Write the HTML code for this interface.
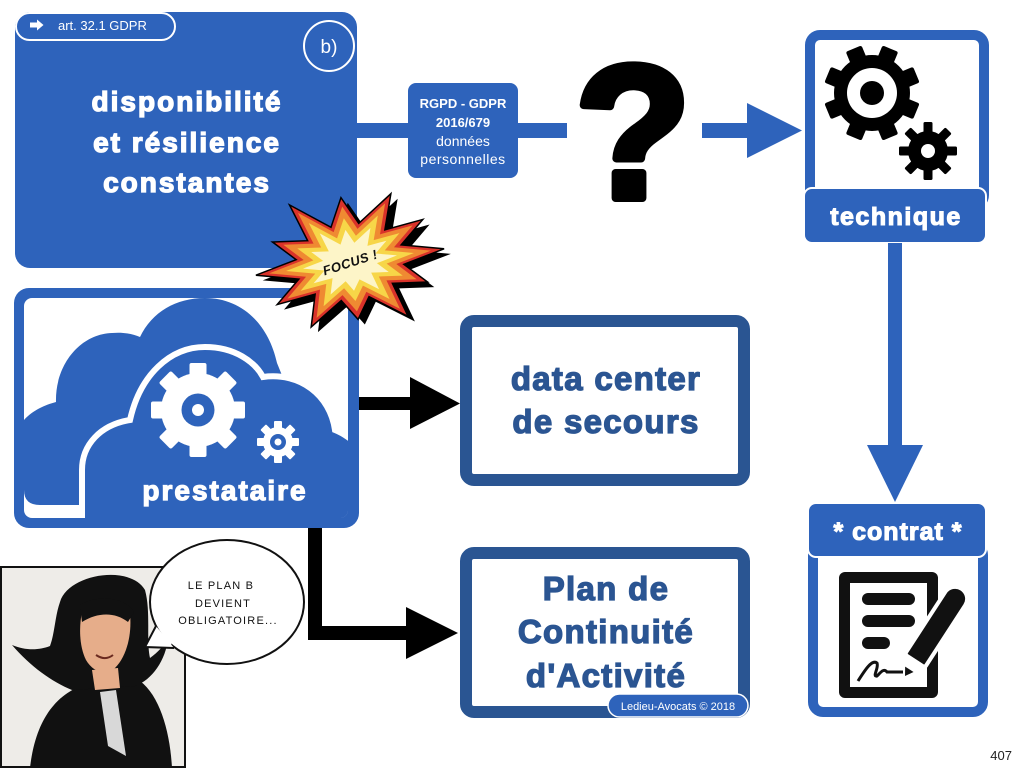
<!DOCTYPE html>
<html><head><meta charset="utf-8"><style>
html,body{margin:0;padding:0;background:#fff;width:1024px;height:768px;overflow:hidden}
svg{display:block;font-family:"Liberation Sans",sans-serif}
</style></head><body>
<svg width="1024" height="768" viewBox="0 0 1024 768" xmlns="http://www.w3.org/2000/svg">
<defs>
<clipPath id="inner"><rect x="24" y="298" width="324" height="220" rx="8"/></clipPath>
</defs>
<rect width="1024" height="768" fill="#fff"/>

<!-- top-left box -->
<rect x="15" y="12" width="342" height="256" rx="15" fill="#2e63bb"/>
<rect x="16" y="13" width="159" height="27" rx="13.5" fill="#2e63bb" stroke="#fff" stroke-width="2"/>
<polygon points="30,22.5 37,22.5 37,19.5 43.5,25 37,30.5 37,27.5 30,27.5" fill="#fff"/>
<text x="58" y="30" font-size="13" fill="#fff">art. 32.1 GDPR</text>
<circle cx="329" cy="46" r="25" fill="none" stroke="#fff" stroke-width="2"/>
<text x="329" y="53" font-size="19" fill="#fff" text-anchor="middle">b)</text>
<g font-size="28" font-weight="bold" fill="#fff" stroke="#fff" stroke-width="1.3" text-anchor="middle" letter-spacing="2">
<text x="187" y="111">disponibilité</text>
<text x="187" y="152">et résilience</text>
<text x="187" y="192">constantes</text>
</g>

<!-- top connector -->
<rect x="357" y="123" width="51" height="15" fill="#2e63bb"/>
<rect x="408" y="83" width="110" height="95" rx="8" fill="#2e63bb"/>
<g fill="#fff" text-anchor="middle">
<text x="463" y="108" font-size="13" font-weight="bold">RGPD - GDPR</text>
<text x="463" y="127" font-size="13" font-weight="bold">2016/679</text>
<text x="463" y="146" font-size="14">données</text>
<text x="463" y="164" font-size="14" letter-spacing="0.5">personnelles</text>
</g>
<rect x="518" y="123" width="49" height="15" fill="#2e63bb"/>
<text x="633" y="198" font-size="190" font-weight="bold" fill="#000" stroke="#000" stroke-width="8" stroke-linejoin="round" text-anchor="middle">?</text>
<rect x="702" y="123" width="46" height="15" fill="#2e63bb"/>
<polygon points="747,103 802,130.5 747,158" fill="#2e63bb"/>

<!-- technique box -->
<rect x="810" y="35" width="174" height="170" rx="10" fill="#fff" stroke="#2e63bb" stroke-width="10"/>
<g transform="translate(872,93)" fill="#000">
<circle r="38"/>
<rect x="-8.5" y="-48" width="17" height="96" rx="2" transform="rotate(22.5)"/>
<rect x="-8.5" y="-48" width="17" height="96" rx="2" transform="rotate(67.5)"/>
<rect x="-8.5" y="-48" width="17" height="96" rx="2" transform="rotate(112.5)"/>
<rect x="-8.5" y="-48" width="17" height="96" rx="2" transform="rotate(157.5)"/>
<circle r="25" fill="#fff"/>
<circle r="12" fill="#000"/>
</g>
<g transform="translate(928,151)" fill="#000">
<circle r="20"/>
<rect x="-4.5" y="-29" width="9" height="58" rx="1.5" transform="rotate(0)"/>
<rect x="-4.5" y="-29" width="9" height="58" rx="1.5" transform="rotate(45)"/>
<rect x="-4.5" y="-29" width="9" height="58" rx="1.5" transform="rotate(90)"/>
<rect x="-4.5" y="-29" width="9" height="58" rx="1.5" transform="rotate(135)"/>
<circle r="7" fill="#fff"/>
</g>
<rect x="804" y="188" width="182" height="55" rx="8" fill="#2e63bb" stroke="#fff" stroke-width="2"/>
<text x="896" y="225" font-size="25" font-weight="bold" fill="#fff" stroke="#fff" stroke-width="1.1" text-anchor="middle" letter-spacing="1.5">technique</text>

<!-- vertical arrow -->
<rect x="888" y="243" width="14" height="203" fill="#2e63bb"/>
<polygon points="867,445 923,445 895,502" fill="#2e63bb"/>

<!-- contrat box -->
<rect x="813" y="545" width="170" height="167" rx="10" fill="#fff" stroke="#2e63bb" stroke-width="10"/>
<rect x="808" y="503" width="178" height="54" rx="8" fill="#2e63bb" stroke="#fff" stroke-width="2"/>
<text x="898" y="540" font-size="25" font-weight="bold" fill="#fff" stroke="#fff" stroke-width="1.1" text-anchor="middle" letter-spacing="1">* contrat *</text>
<rect x="839" y="572" width="99" height="126" rx="6" fill="#111"/>
<rect x="850" y="583" width="77" height="104" fill="#fff"/>
<rect x="862" y="593" width="53" height="12" rx="6" fill="#111"/>
<rect x="862" y="615" width="53" height="12" rx="6" fill="#111"/>
<rect x="862" y="637" width="28" height="12" rx="6" fill="#111"/>
<path d="M858,681 C865,670 872,659 877,663 C879,668 872,677 877,676 C881,672 884,668 887,672 L903,672" stroke="#111" stroke-width="3" fill="none"/>
<g transform="translate(905,676) rotate(-57)">
<path d="M0,0 L20,-12 L92,-12 A12,12 0 0 1 92,12 L20,12 Z" fill="#111" stroke="#fff" stroke-width="4"/>
<polygon points="4,-2 20,-11 20,11 4,2" fill="#fff"/>
<polygon points="0,0 8,-5 8,5" fill="#111"/>
</g>

<!-- cloud box -->
<rect x="14" y="288" width="345" height="240" rx="15" fill="#2e63bb"/>
<rect x="24" y="298" width="324" height="220" rx="8" fill="#fff"/>
<g clip-path="url(#inner)">
<path d="M24,420 C33,410 45,405 56,402 C55,365 80,334 112,333 C124,332 133,334 140,337 C152,312 176,298 205,298 C240,298 268,322 277,363 L300,420 L360,440 L360,540 L82,540 L82,505 L40,505 Q24,505 24,490 Z" fill="#2e63bb"/>
<path d="M82,560 L82,470 C82,445 100,425 130,420 C140,375 170,347 205,347 C235,347 255,362 263,377 C300,372 330,395 335,430 C345,434 352,440 360,447 L360,560 Z" fill="#2e63bb" stroke="#fff" stroke-width="6"/>
</g>
<g transform="translate(198,410)" fill="#fff">
<circle r="37"/>
<rect x="-8.5" y="-47" width="17" height="94" rx="2" transform="rotate(0)"/>
<rect x="-8.5" y="-47" width="17" height="94" rx="2" transform="rotate(45)"/>
<rect x="-8.5" y="-47" width="17" height="94" rx="2" transform="rotate(90)"/>
<rect x="-8.5" y="-47" width="17" height="94" rx="2" transform="rotate(135)"/>
<circle r="16.5" fill="#2e63bb"/>
<circle r="6" fill="#fff"/>
</g>
<g transform="translate(278,442)" fill="#fff">
<circle r="15"/>
<rect x="-4" y="-21" width="8" height="42" rx="1" transform="rotate(0)"/>
<rect x="-4" y="-21" width="8" height="42" rx="1" transform="rotate(45)"/>
<rect x="-4" y="-21" width="8" height="42" rx="1" transform="rotate(90)"/>
<rect x="-4" y="-21" width="8" height="42" rx="1" transform="rotate(135)"/>
<circle r="8" fill="#2e63bb"/>
<circle r="3.5" fill="#fff"/>
</g>
<text x="225" y="500" font-size="28" font-weight="bold" fill="#fff" stroke="#fff" stroke-width="1.2" text-anchor="middle" letter-spacing="2">prestataire</text>

<!-- black arrows -->
<rect x="359" y="397" width="52" height="13" fill="#000"/>
<polygon points="410,377 460,403.5 410,429" fill="#000"/>
<rect x="308" y="528" width="14" height="112" fill="#000"/>
<rect x="308" y="626" width="99" height="14" fill="#000"/>
<polygon points="406,607 458,633 406,659" fill="#000"/>

<!-- dark boxes -->
<rect x="466" y="321" width="278" height="159" rx="8" fill="#fff" stroke="#2a5592" stroke-width="12"/>
<rect x="466" y="553" width="278" height="159" rx="8" fill="#fff" stroke="#2a5592" stroke-width="12"/>
<g font-size="33" font-weight="bold" fill="#2b5592" stroke="#2b5592" stroke-width="1.3" text-anchor="middle" letter-spacing="1.3">
<text x="606" y="390">data center</text>
<text x="606" y="433">de secours</text>
<text x="606" y="600">Plan de</text>
<text x="606" y="643">Continuité</text>
<text x="606" y="687">d'Activité</text>
</g>
<rect x="608" y="694" width="140" height="23" rx="11.5" fill="#2e63bb" stroke="#fff" stroke-width="1.5"/>
<text x="678" y="710" font-size="11" fill="#fff" text-anchor="middle">Ledieu-Avocats © 2018</text>

<!-- character panel -->
<rect x="1" y="567" width="184" height="200" fill="#eeece8" stroke="#111" stroke-width="2"/>
<path d="M30,768 C35,722 55,692 90,683 L140,681 C160,696 170,732 172,768 Z" fill="#111"/>
<path d="M60,602 C68,574 130,564 145,590 C151,612 146,640 150,658 C158,652 164,646 168,638 C166,660 152,680 135,686 L72,690 C52,682 30,666 12,645 C26,651 40,650 50,646 C55,632 55,616 60,602 Z" fill="#111"/>
<path d="M82,612 C92,604 120,604 130,614 C132,634 127,656 115,668 C105,676 93,672 86,660 C79,646 79,626 82,612 Z" fill="#e6ad8a"/>
<path d="M80,605 C95,595 125,596 134,612 L128,622 C115,612 98,612 82,622 Z" fill="#111"/>
<path d="M92,670 L118,668 L120,688 L95,690 Z" fill="#e6ad8a"/>
<path d="M100,692 L116,690 L126,756 L108,746 Z" fill="#d8d8d8"/>
<path d="M96,655 C102,659 108,659 113,655" stroke="#6a2a20" stroke-width="2" fill="none"/>

<!-- speech bubble -->
<ellipse cx="227" cy="602" rx="77" ry="62" fill="#fff" stroke="#111" stroke-width="2"/>
<path d="M156,626 L145,647 L174,648" fill="#fff" stroke="#111" stroke-width="2" stroke-linejoin="miter"/>
<polygon points="158.5,631 149,644.5 171,646 172,640 163,634" fill="#fff"/>
<g font-size="11" fill="#111" text-anchor="middle" letter-spacing="1.2">
<text x="221" y="589">LE PLAN B</text>
<text x="223" y="607">DEVIENT</text>
<text x="228" y="624">OBLIGATOIRE...</text>
</g>

<!-- focus burst -->
<g transform="translate(350,262) rotate(-8)">
<polygon transform="translate(6,6)" fill="#000" points="95,0 53,9.8 74,30.6 39,27 50,62 14,37 0,58 -14,37 -47.5,59 -39,27 -78,32 -53,9.8 -95,0 -53,-9.8 -74,-30.6 -39,-27 -52,-65 -14,-37 0,-65 14,-37 50,-62 39,-27 78,-32 53,-9.8"/>
<polygon fill="#d9322a" stroke="#000" stroke-width="1.5" points="95,0 53,9.8 74,30.6 39,27 50,62 14,37 0,58 -14,37 -47.5,59 -39,27 -78,32 -53,9.8 -95,0 -53,-9.8 -74,-30.6 -39,-27 -52,-65 -14,-37 0,-65 14,-37 50,-62 39,-27 78,-32 53,-9.8"/>
<polygon transform="scale(0.86)" fill="#ef8a32" points="95,0 53,9.8 74,30.6 39,27 50,62 14,37 0,58 -14,37 -47.5,59 -39,27 -78,32 -53,9.8 -95,0 -53,-9.8 -74,-30.6 -39,-27 -52,-65 -14,-37 0,-65 14,-37 50,-62 39,-27 78,-32 53,-9.8"/>
<polygon transform="scale(0.68)" fill="#f7d648" points="95,0 53,9.8 74,30.6 39,27 50,62 14,37 0,58 -14,37 -47.5,59 -39,27 -78,32 -53,9.8 -95,0 -53,-9.8 -74,-30.6 -39,-27 -52,-65 -14,-37 0,-65 14,-37 50,-62 39,-27 78,-32 53,-9.8"/>
<polygon transform="scale(0.5)" fill="#fdf5c8" points="95,0 53,9.8 74,30.6 39,27 50,62 14,37 0,58 -14,37 -47.5,59 -39,27 -78,32 -53,9.8 -95,0 -53,-9.8 -74,-30.6 -39,-27 -52,-65 -14,-37 0,-65 14,-37 50,-62 39,-27 78,-32 53,-9.8"/>
<text x="0" y="5" transform="rotate(-10)" font-size="13" font-weight="bold" font-style="italic" fill="#111" text-anchor="middle" letter-spacing="0.5">FOCUS !</text>
</g>

<text x="1012" y="760" font-size="13" fill="#222" text-anchor="end">407</text>
</svg>
</body></html>
